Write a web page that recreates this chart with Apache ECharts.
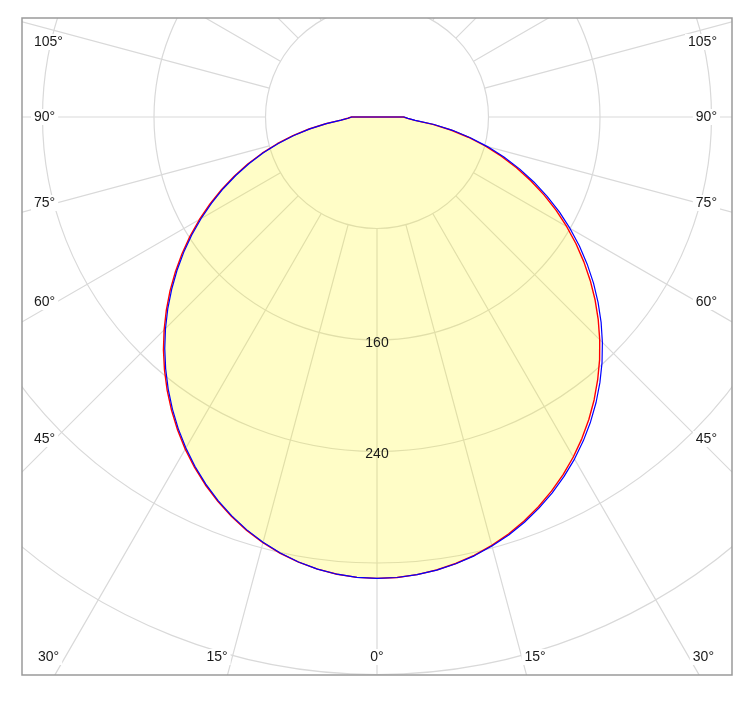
<!DOCTYPE html>
<html>
<head>
<meta charset="utf-8">
<script src="https://cdn.jsdelivr.net/npm/echarts@6/dist/echarts.min.js"></script>
<style>
html,body{margin:0;padding:0;background:#fff;}
#chart{width:756px;height:702px;}
</style>
</head>
<body>
<div id="chart"></div>
<script>
// ---- data ----
const gammaAngles = [0,2.5,5,7.5,10,12.5,15,17.5,20,22.5,25,27.5,30,32.5,35,37.5,40,42.5,45,
  47.5,50,52.5,55,57.5,60,62.5,65,67.5,70,72.5,75,77.5,80,82.5,85,87.5,90];
// C-plane A (red): left half and right half intensities
const redLeft  = [331,330.6,329.3,327.2,324.3,320.7,316.2,311.0,305.1,298.5,291.3,283.5,275.2,266.3,257.0,247.3,237.2,226.8,216.0,
  205.0,193.8,182.3,170.7,159.0,147.1,135.1,123.0,110.9,98.7,86.4,74.1,61.8,49.5,37.1,26.0,21.0,18.3];
const redRight = [331,330.7,329.6,327.8,325.3,322.1,318.2,313.7,308.5,302.7,296.2,289.2,281.7,273.6,265.0,255.9,246.3,236.4,226.0,
  215.3,204.3,192.9,181.2,169.3,157.1,144.8,132.2,119.4,106.5,93.5,80.4,67.1,53.8,40.4,27.3,22.0,19.0];
// C-plane B (blue)
const blueLeft  = [331,330.6,329.3,327.2,324.2,320.4,315.9,310.6,304.6,297.9,290.6,282.7,274.2,265.3,255.9,246.1,235.9,225.4,214.6,
  203.6,192.3,180.9,169.3,157.6,145.7,133.8,121.8,109.7,97.6,85.5,73.3,61.1,48.9,36.7,25.8,20.8,18.2];
const blueRight = [331,330.7,329.6,327.9,325.5,322.5,318.7,314.4,309.4,303.7,297.5,290.7,283.4,275.5,267.1,258.2,248.8,239.0,228.7,
  218.1,207.1,195.8,184.1,172.2,159.9,147.5,134.7,121.8,108.8,95.5,82.1,68.6,55.0,41.3,27.5,22.2,19.4];
const radiusTicks = [80,160,240,320,400,480];
const radiusLabelsShown = [160,240];
const leftAngleLabels  = ['105°','90°','75°','60°','45°'];
const rightAngleLabels = ['105°','90°','75°','60°','45°'];
const bottomAngleLabels = ['30°','15°','0°','15°','30°'];

// ---- layout ----
const CX = 377, CY = 117;
const R_IN = 111.5, R_OUT = 669;
const FRAME = {x:22, y:18, w:710, h:657};
const leftLabelY = [42,117,203,302,439];
const bottomLabelX = [35,217,377,535,717];
const bottomAlign = ['left','center','center','center','right'];
const textStyleBase = {fontFamily:'Liberation Sans, Arial, sans-serif', fontSize:14, fill:'#1a1a1a'};

function buildLoop(left, right){
  const pts = [];
  gammaAngles.forEach((a,i)=>pts.push([left[i], a]));
  pts.push([0,180]);
  for(let i=gammaAngles.length-1;i>=0;i--) pts.push([right[i], 360-gammaAngles[i]]);
  return pts;
}

const chart = echarts.init(document.getElementById('chart'), null, {renderer:'canvas'});

const gridColor = '#d9d9d9';
const graphicEls = [
  {id:'mT', type:'rect', shape:{x:0,y:0,width:756,height:FRAME.y}, style:{fill:'#fff'}, z:100, silent:true},
  {id:'mB', type:'rect', shape:{x:0,y:FRAME.y+FRAME.h,width:756,height:702-FRAME.y-FRAME.h}, style:{fill:'#fff'}, z:100, silent:true},
  {id:'mL', type:'rect', shape:{x:0,y:0,width:FRAME.x,height:702}, style:{fill:'#fff'}, z:100, silent:true},
  {id:'mR', type:'rect', shape:{x:FRAME.x+FRAME.w,y:0,width:756-FRAME.x-FRAME.w,height:702}, style:{fill:'#fff'}, z:100, silent:true},
  {id:'frame', type:'rect', shape:{x:FRAME.x,y:FRAME.y,width:FRAME.w,height:FRAME.h}, style:{fill:null, stroke:'#9a9a9a', lineWidth:1.5}, z:101, silent:true}
];
leftAngleLabels.forEach((t,i)=>{
  graphicEls.push({id:'ll'+i, type:'text', x:31, y:leftLabelY[i], z:102,
    style:Object.assign({text:t, textAlign:'left', textVerticalAlign:'middle', backgroundColor:'#fff', padding:[1,3,1,3]}, textStyleBase)});
});
rightAngleLabels.forEach((t,i)=>{
  graphicEls.push({id:'rl'+i, type:'text', x:720, y:leftLabelY[i], z:102,
    style:Object.assign({text:t, textAlign:'right', textVerticalAlign:'middle', backgroundColor:'#fff', padding:[1,3,1,3]}, textStyleBase)});
});
bottomAngleLabels.forEach((t,i)=>{
  graphicEls.push({id:'bl'+i, type:'text', x:bottomLabelX[i], y:657, z:102,
    style:Object.assign({text:t, textAlign:bottomAlign[i], textVerticalAlign:'middle', backgroundColor:'#fff', padding:[1,3,1,3]}, textStyleBase)});
});

const option = {
  animation:false,
  backgroundColor:'#fff',
  polar:[
    {center:[CX,CY], radius:[R_IN,R_OUT]},
    {center:[CX,CY], radius:[0,R_OUT]}
  ],
  angleAxis:[
    {polarIndex:0, type:'value', min:0, max:360, interval:15, startAngle:270, clockwise:true,
     axisLine:{show:false}, axisTick:{show:false}, axisLabel:{show:false},
     splitLine:{show:true, lineStyle:{color:gridColor, width:1.2}}},
    {polarIndex:1, type:'value', min:0, max:360, startAngle:270, clockwise:true,
     axisLine:{show:false}, axisTick:{show:false}, axisLabel:{show:false}, splitLine:{show:false}}
  ],
  radiusAxis:[
    {polarIndex:0, type:'value', min:radiusTicks[0], max:radiusTicks[radiusTicks.length-1], interval:80,
     axisLine:{show:false}, axisTick:{show:false}, axisLabel:{show:false},
     splitLine:{show:true, lineStyle:{color:gridColor, width:1.2}}},
    {polarIndex:1, type:'value', min:0, max:radiusTicks[radiusTicks.length-1],
     axisLine:{show:false}, axisTick:{show:false}, axisLabel:{show:false}, splitLine:{show:false}}
  ],
  series:[
    {type:'line', coordinateSystem:'polar', polarIndex:1, data:buildLoop(redLeft, redRight),
     symbol:'none', clip:false, z:2, lineStyle:{color:'#ff0000', width:1.4},
     areaStyle:{color:'rgba(255,245,0,0.22)', opacity:1}},
    {type:'line', coordinateSystem:'polar', polarIndex:1, data:buildLoop(blueLeft, blueRight),
     symbol:'none', clip:false, z:3, lineStyle:{color:'#0000ff', width:1.2}}
  ],
  graphic:{elements:graphicEls}
};
chart.setOption(option);

// radius labels placed through the polar scale
const extra = radiusLabelsShown.map((v,i)=>{
  const p = chart.convertToPixel({seriesIndex:0}, [v, 0]);
  return {id:'rad'+i, type:'text', x:p[0], y:p[1]+3, z:50,
    style:Object.assign({text:String(v), textAlign:'center', textVerticalAlign:'middle'}, textStyleBase)};
});
chart.setOption({graphic:{elements:extra}});
</script>
</body>
</html>
